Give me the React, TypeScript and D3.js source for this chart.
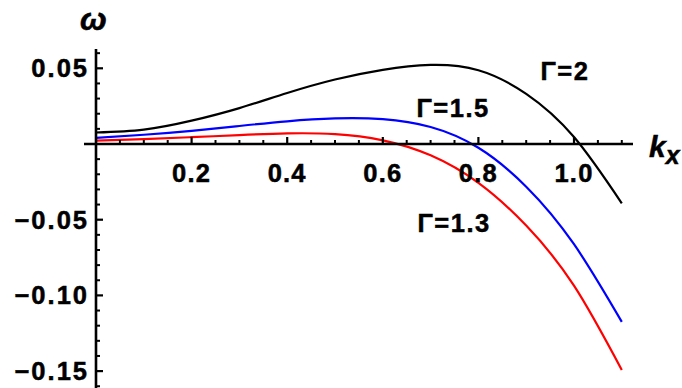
import React from "react";
import * as d3 from "d3";

const kValues = [0, 0.1, 0.2, 0.3, 0.4, 0.5, 0.6, 0.7, 0.8, 0.9, 1.0, 1.1];
const gamma2 = [0.0076, 0.0095, 0.0154, 0.0237, 0.0337, 0.0426, 0.049, 0.0522, 0.0487, 0.0331, 0.0046, -0.0392];
const gamma15 = [0.004, 0.0061, 0.0087, 0.0119, 0.015, 0.0169, 0.0164, 0.0112, -0.0025, -0.0282, -0.0662, -0.1175];
const gamma13 = [0.0022, 0.0032, 0.0045, 0.0059, 0.007, 0.0065, 0.0024, -0.0075, -0.0257, -0.0539, -0.0936, -0.1493];

const seriesNames = ["Γ=2", "Γ=1.5", "Γ=1.3"];
const seriesColors = ["#000000", "#0000ff", "#ff0000"];

const xMajorTicks = [0.2, 0.4, 0.6, 0.8, 1.0];
const xMajorLabels = ["0.2", "0.4", "0.6", "0.8", "1.0"];
const yMajorTicks = [0.05, -0.05, -0.1, -0.15];
const yMajorLabels = ["0.05", "−0.05", "−0.10", "−0.15"];

const W = 682;
const H = 388;

export default function App() {
  const x = d3.scaleLinear().domain([0, 1]).range([96, 574]);
  const y = d3.scaleLinear().domain([0, 0.05]).range([144, 68.3]);

  const series = [gamma2, gamma15, gamma13];
  const line = d3
    .line<number>()
    .x((_, i) => x(kValues[i]))
    .y((d) => y(d))
    .curve(d3.curveNatural);

  const xMinor = d3.range(1, 23).map((i) => i * 0.05).filter((v) => !xMajorTicks.some((m) => Math.abs(m - v) < 1e-6));
  const yMinor = d3.range(-16, 7).map((i) => i * 0.01).filter((v) => Math.abs(v) > 1e-6 && !yMajorTicks.some((m) => Math.abs(m - v) < 1e-6));

  const labelPos = [
    { x: 540.5, y: 80 },
    { x: 416.5, y: 116.7 },
    { x: 417.5, y: 231.5 },
  ];

  const font = "'Liberation Sans', Arial, sans-serif";
  const axisColor = "#000";
  const textStroke = { stroke: "#000", strokeWidth: 0.5 };

  return (
    <svg width={W} height={H} style={{ position: "absolute", left: 0, top: 0, background: "#fff" }} fontFamily={font}>
      {series.map((s, i) => (
        <path key={i} d={line(s) || ""} fill="none" stroke={seriesColors[i]} strokeWidth={2.2} />
      ))}
      {/* x axis */}
      <line x1={84} x2={633} y1={y(0)} y2={y(0)} stroke={axisColor} strokeWidth={2.6} />
      {xMinor.map((v, i) => (
        <line key={"xm" + i} x1={x(v)} x2={x(v)} y1={y(0)} y2={y(0) - 4} stroke={axisColor} strokeWidth={2} />
      ))}
      {xMajorTicks.map((v, i) => (
        <line key={"xM" + i} x1={x(v)} x2={x(v)} y1={y(0)} y2={y(0) - 7} stroke={axisColor} strokeWidth={2.2} />
      ))}
      {xMajorTicks.map((v, i) => (
        <text key={"xl" + i} x={x(v)} y={181.7} textAnchor="middle" fontSize={25.5} fontWeight="bold" letterSpacing={1.2} {...textStroke}>
          {xMajorLabels[i]}
        </text>
      ))}
      {/* y axis */}
      <line x1={x(0)} x2={x(0)} y1={49} y2={H} stroke={axisColor} strokeWidth={2.6} />
      {yMinor.map((v, i) => (
        <line key={"ym" + i} x1={x(0)} x2={x(0) + 4} y1={y(v)} y2={y(v)} stroke={axisColor} strokeWidth={2} />
      ))}
      {yMajorTicks.map((v, i) => (
        <text key={"yl" + i} x={89} y={y(v) + 9} textAnchor="end" fontSize={25.5} fontWeight="bold" letterSpacing={2} {...textStroke}>
          {yMajorLabels[i]}
        </text>
      ))}
      {yMajorTicks.map((v, i) => (
        <line key={"yM" + i} x1={x(0)} x2={x(0) + 7} y1={y(v)} y2={y(v)} stroke={axisColor} strokeWidth={2.2} />
      ))}
      {/* axis labels */}
      <text x={80} y={30} fontSize={32} fontWeight="bold" fontStyle="italic" {...textStroke}>ω</text>
      <text x={649} y={157} fontSize={30} fontWeight="bold" fontStyle="italic" {...textStroke}>
        k
        <tspan fontSize={25} dy={7}>x</tspan>
      </text>
      {/* curve labels */}
      {seriesNames.map((n, i) => (
        <text key={"sl" + i} x={labelPos[i].x} y={labelPos[i].y} fontSize={25.5} fontWeight="bold" letterSpacing={1.5} {...textStroke}>
          {n}
        </text>
      ))}
    </svg>
  );
}
